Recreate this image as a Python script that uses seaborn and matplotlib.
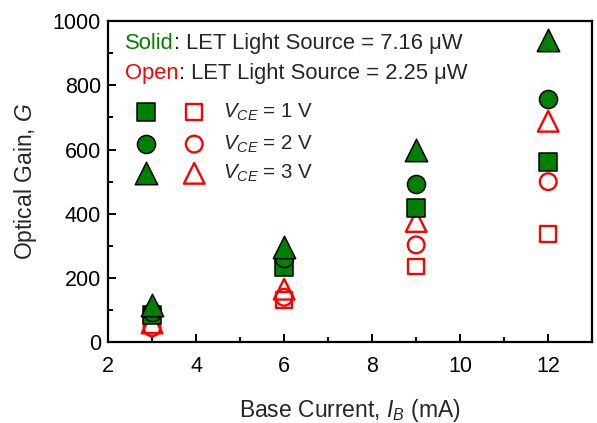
import pandas as pd
import matplotlib.pyplot as plt
import numpy as np
import seaborn as sns
from matplotlib.ticker import MultipleLocator

sns.set_style('white')
plt.rcParams['font.family'] = ['Liberation Sans', 'DejaVu Sans']
plt.rcParams['mathtext.fontset'] = 'custom'
plt.rcParams['mathtext.rm'] = 'Liberation Sans'
plt.rcParams['mathtext.it'] = 'Liberation Sans:italic'

# 数据
base_current = [3, 6, 9, 12]
vce_labels = ['1 V', '2 V', '3 V']
# 实心: 7.16 uW
solid_1v = [85, 235, 418, 560]
solid_2v = [95, 262, 493, 757]
solid_3v = [115, 298, 598, 942]
# 空心: 2.25 uW
open_1v = [52, 132, 236, 336]
open_2v = [45, 140, 303, 500]
open_3v = [60, 165, 376, 688]

rows = []
for v, s_vals, o_vals in zip(vce_labels, [solid_1v, solid_2v, solid_3v], [open_1v, open_2v, open_3v]):
    for x, s, o in zip(base_current, s_vals, o_vals):
        rows.append({'IB': x, 'G': s, 'VCE': v, 'src': 'solid'})
        rows.append({'IB': x, 'G': o, 'VCE': v, 'src': 'open'})
data = pd.DataFrame(rows)

green = '#008000'
red = '#ff0000'
markers = {'1 V': 's', '2 V': 'o', '3 V': '^'}
sizes = {'1 V': 150, '2 V': 170, '3 V': 260}

fig = plt.figure(figsize=(5.97, 4.23), dpi=100)
ax = fig.add_axes([0.181, 0.191, 0.811, 0.759])

# 先画空心再画实心
for v in vce_labels:
    d = data[(data['VCE'] == v) & (data['src'] == 'open')]
    sns.scatterplot(x='IB', y='G', data=d, marker=markers[v], s=sizes[v] * 0.85,
                    facecolor='none', edgecolor=red, linewidth=1.7, ax=ax, zorder=3)
for v in vce_labels:
    d = data[(data['VCE'] == v) & (data['src'] == 'solid')]
    sns.scatterplot(x='IB', y='G', data=d, marker=markers[v], s=sizes[v],
                    color=green, edgecolor='black', linewidth=1.1, ax=ax, zorder=4)

ax.set_xlim(2, 13)
ax.set_ylim(0, 1000)
ax.set_xticks([2, 4, 6, 8, 10, 12])
ax.set_yticks([0, 200, 400, 600, 800, 1000])
ax.xaxis.set_minor_locator(MultipleLocator(1))
ax.yaxis.set_minor_locator(MultipleLocator(100))
ax.tick_params(which='both', direction='in', top=False, right=False, bottom=True, left=True,
               labelsize=15.5, width=1.4, colors='black')
ax.tick_params(which='major', length=6)
ax.tick_params(which='minor', length=3.5)
ax.tick_params(axis='x', pad=10)
ax.tick_params(axis='y', pad=5)
for sp in ax.spines.values():
    sp.set_linewidth(1.6)
    sp.set_color('black')
ax.set_xlabel('Base Current, $\\mathit{I_B}$ (mA)', fontsize=16.5, labelpad=14)
ax.set_ylabel('Optical Gain, $\\mathit{G}$', fontsize=16.5, labelpad=10)

# 图例文字
fs = 15.8
t = ax.text(0.035, 0.931, 'Solid', color=green, fontsize=fs, transform=ax.transAxes, va='center')
ax.annotate(': LET Light Source = 7.16 \u03bcW', xycoords=t, xy=(1, 0), va='bottom', fontsize=fs)
t2 = ax.text(0.035, 0.838, 'Open', color=red, fontsize=fs, transform=ax.transAxes, va='center')
ax.annotate(': LET Light Source = 2.25 \u03bcW', xycoords=t2, xy=(1, 0), va='bottom', fontsize=fs)

leg_y = [0.717, 0.617, 0.526]
for v, yy in zip(vce_labels, leg_y):
    ax.scatter([0.0785], [yy], marker=markers[v], s=sizes[v], color=green, edgecolor='black',
               linewidth=1.1, transform=ax.transAxes, clip_on=False)
    ax.scatter([0.178], [yy], marker=markers[v], s=sizes[v] * 0.85, facecolor='none', edgecolor=red,
               linewidth=1.7, transform=ax.transAxes, clip_on=False)
    ax.text(0.237, yy, '$\\mathit{V_{CE}}$ = ' + v, fontsize=14.8, transform=ax.transAxes, va='center')

if ax.get_legend() is not None:
    ax.get_legend().remove()

plt.savefig('out.png', dpi=100)
plt.close()
